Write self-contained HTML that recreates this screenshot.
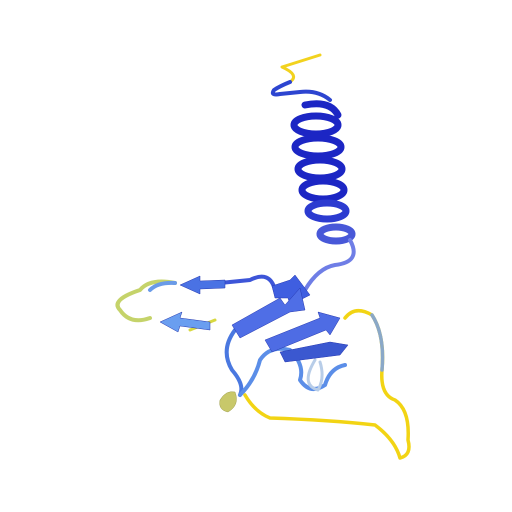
<!DOCTYPE html>
<html><head><meta charset="utf-8"><style>html,body{margin:0;padding:0;background:#fff}svg{display:block}</style></head>
<body>
<svg width="512" height="512" viewBox="0 0 512 512">
<rect width="512" height="512" fill="#fff"/>
<g fill="none" stroke-linecap="round" stroke-linejoin="round">
<path d="M320,55 L282,67 Q300,75 290,82" stroke="#f2d21e" stroke-width="3"/>
<path d="M290,82 Q280,86 274,90 Q270,96 280,94 L300,92 Q318,90 330,100" stroke="#2d45d0" stroke-width="4"/>
<g stroke="#1c26c4" stroke-width="7">
<ellipse cx="316" cy="125" rx="22" ry="9"/>
<ellipse cx="318" cy="147" rx="23" ry="9"/>
<ellipse cx="320" cy="169" rx="22" ry="9"/>
<ellipse cx="323" cy="190" rx="21" ry="9"/>
<ellipse cx="327" cy="211" rx="19" ry="8" stroke="#2c3bd0"/>
<ellipse cx="336" cy="234" rx="16" ry="7" stroke="#4858d8"/>
<path d="M305,105 Q330,100 338,115" />
</g>
<path d="M350,240 Q362,262 335,265 Q318,268 305,290" stroke="#6f7ee6" stroke-width="4"/>
<path d="M275,290 Q270,270 250,280 L220,283" stroke="#3d55d8" stroke-width="4"/>
<path d="M175,283 Q150,278 140,290 Q110,300 120,310 Q130,325 150,318" stroke="#c5d36a" stroke-width="4"/>
<path d="M175,283 Q158,282 150,290" stroke="#6a9be8" stroke-width="4"/>
<path d="M190,330 L215,320" stroke="#d8d840" stroke-width="3"/>
<path d="M235,330 Q220,350 232,370 Q245,385 240,395" stroke="#4a78e0" stroke-width="4"/>
<path d="M240,395 Q255,380 260,360 Q270,345 290,350 Q305,365 300,380 Q310,395 325,385 Q330,368 345,365" stroke="#5b8ee8" stroke-width="4"/>
<path d="M315,360 Q300,385 318,390 Q325,378 320,362" stroke="#b8cde8" stroke-width="3"/>
<path d="M245,395 Q255,412 270,418 Q330,420 375,425 Q395,440 400,458 Q412,455 408,440 Q410,410 395,400 Q380,395 382,370 Q385,335 372,315 Q355,305 345,318" stroke="#f2d414" stroke-width="3.5"/>
<path d="M372,315 Q385,335 382,370" stroke="#8aa8c8" stroke-width="3.5"/>
</g>
<g stroke="#2638b0" stroke-width="0.5">
<polygon points="225,280 200,281 200,276 180,285 200,294 200,289 225,288" fill="#4a72e4"/>
<polygon points="210,322 180,318 182,312 160,322 178,332 180,326 210,330" fill="#6a9ef0"/>
<polygon points="272,286 290,280 295,275 310,295 290,305 288,298 275,298" fill="#3f5ee0"/>
<polygon points="232,325 280,298 285,305 300,288 305,310 290,312 240,338" fill="#4f6ee6"/>
<polygon points="265,340 320,318 318,312 340,318 330,335 326,330 272,352" fill="#4e6ce4"/>
<polygon points="280,352 330,342 348,345 340,355 285,362" fill="#3b58d0"/>
<path d="M220,400 Q226,390 235,392 Q240,405 228,412 Q218,410 220,400 Z" fill="#c8c86a" stroke="#a0a050"/>
</g>
</svg>
</body></html>
